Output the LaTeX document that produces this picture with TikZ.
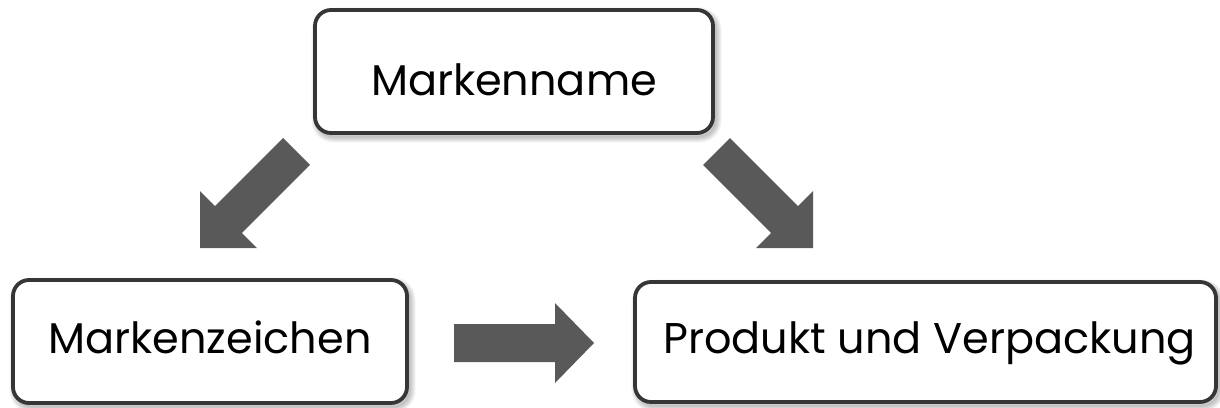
\documentclass[tikz,border=0pt]{standalone}
\usepackage{fontspec}
\setmainfont{Poppins}
\definecolor{boxline}{HTML}{363636}
\definecolor{arrowfill}{HTML}{595959}
\begin{document}
\begin{tikzpicture}[x=1pt,y=-1pt,
  box/.style={draw=boxline, line width=3.8pt, rounded corners=16pt, fill=white,
    inner sep=0pt, outer sep=0pt},
  softshadow/.style={draw=black, draw opacity=0.045, line width=#1, rounded corners=16pt},
  lbl/.style={font=\fontsize{43}{50}\selectfont, anchor=base, inner sep=0pt},
  blockarrow/.style={fill=arrowfill, draw=none}]
\useasboundingbox (0,0) rectangle (1220,407);
% shadow layers (drawn first)
\foreach \cx/\cy/\w/\h in {514/71.5/398/123, 210/341.5/394/123, 925.5/342/581/120}{
  \foreach \lw in {2,4,6,8,10,12}{
    \draw[softshadow=\lw pt] (\cx-\w/2+2.5,\cy-\h/2+3.5) rectangle (\cx+\w/2+2.5,\cy+\h/2+3.5);
  }
}
% boxes
\node[box, minimum width=398pt, minimum height=123pt] (name) at (514,71.5) {};
\node[box, minimum width=394pt, minimum height=123pt] (sign) at (210,341.5) {};
\node[box, minimum width=581pt, minimum height=120pt] (prod) at (925.5,342) {};
% labels
\node[lbl] (tname) at (name.center |- 0,95) {Markenname};
\node[lbl] (tsign) at (sign.center |- 0,353) {Markenzeichen};
\node[lbl] (tprod) at ([xshift=4pt]prod.center |- 0,353) {Produkt und Verpackung};
% block arrows
\fill[blockarrow] (283.1,138.1) -- (309.9,164.9) -- (241.9,232.9) -- (257,248)
  -- (200,248) -- (200,191) -- (215.1,206.1) -- cycle;
\fill[blockarrow] (729.9,138.1) -- (703.1,164.9) -- (771.1,232.9) -- (756,248)
  -- (813,248) -- (813,191) -- (797.9,206.1) -- cycle;
\fill[blockarrow] (454,324) -- (555,324) -- (555,303) -- (594,343) -- (555,383)
  -- (555,362) -- (454,362) -- cycle;
\end{tikzpicture}
\end{document}
